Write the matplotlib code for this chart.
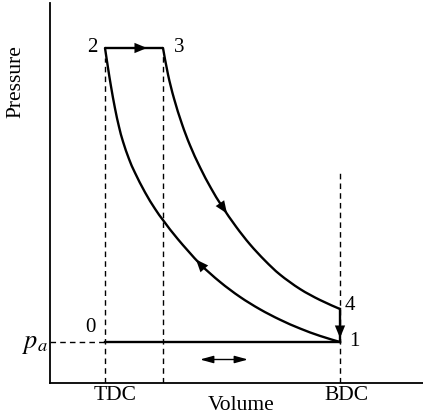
import matplotlib
matplotlib.use("Agg")
import matplotlib.pyplot as plt
from matplotlib.path import Path
from matplotlib.patches import PathPatch

plt.rcParams['font.family'] = ['Liberation Serif', 'DejaVu Serif']
plt.rcParams['mathtext.fontset'] = 'stix'

# ---- data (arbitrary units) ----
V_TDC = 55
V_3 = 113
V_BDC = 290
p_a = 41
p_max = 335
p_4 = 74

# compression curve, listed from state 2 to state 1 (volume, pressure)
comp_V = [55, 58, 61, 65, 69, 73, 79, 85, 95, 105, 114, 128, 150, 170, 190, 210, 230, 250, 270, 290]
comp_p = [335, 315.2, 296.6, 274.6, 256.2, 241.4, 224.0, 210.2, 190.7, 174.2, 161.6, 143.7,
          119.1, 101.1, 86.1, 73.7, 63.3, 54.5, 47.1, 41]
# expansion curve 3 -> 4
exp_V = [113, 118, 124, 132, 140, 150, 161, 172, 186, 200, 215, 230, 250, 270, 290]
exp_p = [335, 308.5, 284.5, 258.9, 237.7, 215.7, 194.8, 176.7, 156.4, 138.6, 122.4, 108.4,
         94.0, 83.0, 74]

labels = ['0', '1', '2', '3', '4']
label_V = [40, 304, 42, 129, 300]
label_p = [55, 42, 335, 335, 78]

fig = plt.figure(figsize=(4.23, 4.17), dpi=100)
ax = fig.add_axes([50 / 423, 34 / 417, 373 / 423, 380 / 417])
ax.set_xlim(0, 373)
ax.set_ylim(0, 380)
for s in ['top', 'right']:
    ax.spines[s].set_visible(False)
for s in ['left', 'bottom']:
    ax.spines[s].set_linewidth(1.3)
ax.set_xticks([])
ax.set_yticks([])

lw = 1.7
dash = dict(color='k', lw=1.0, linestyle=(0, (4, 3)))


def smooth_curve(xs, ys):
    """Catmull-Rom spline through the given points, drawn as a cubic Bezier path."""
    pts = list(zip(xs, ys))
    n = len(pts)
    verts = [pts[0]]
    codes = [Path.MOVETO]
    for i in range(n - 1):
        p0 = pts[i - 1] if i > 0 else pts[i]
        p1 = pts[i]
        p2 = pts[i + 1]
        p3 = pts[i + 2] if i + 2 < n else pts[i + 1]
        c1 = (p1[0] + (p2[0] - p0[0]) / 6, p1[1] + (p2[1] - p0[1]) / 6)
        c2 = (p2[0] - (p3[0] - p1[0]) / 6, p2[1] - (p3[1] - p1[1]) / 6)
        verts += [c1, c2, p2]
        codes += [Path.CURVE4] * 3
    ax.add_patch(PathPatch(Path(verts, codes), fill=False, edgecolor='k', lw=lw,
                           capstyle='round', joinstyle='round'))


# dashed guide lines
ax.plot([V_TDC, V_TDC], [0, p_max - 10], **dash)
ax.plot([V_3, V_3], [0, p_max - 5], **dash)
ax.plot([V_BDC, V_BDC], [0, 213], **dash)
ax.plot([0, V_TDC], [p_a, p_a], **dash)

# cycle
ax.plot([V_TDC, V_BDC], [p_a, p_a], color='k', lw=lw)
ax.plot([V_TDC, V_3], [p_max, p_max], color='k', lw=lw, solid_capstyle='butt')
smooth_curve(comp_V, comp_p)
smooth_curve(exp_V, exp_p)
ax.plot([V_BDC, V_BDC], [p_4, p_a], color='k', lw=lw)

ahead = dict(arrowstyle='-|>,head_length=0.9,head_width=0.37', color='k', lw=0.01,
             shrinkA=0, shrinkB=0, mutation_scale=10)


def arrow(x0, y0, x1, y1):
    ax.annotate('', xy=(x1, y1), xytext=(x0, y0), arrowprops=ahead)


# 2 -> 3
arrow(80, p_max, 97, p_max)
# expansion arrow (along curve, pointing down-right)
arrow(170.2, 179.4, 177, 169.5)
# compression arrow (pointing up-left)
arrow(154, 114.5, 146, 123.5)
# 4 -> 1
arrow(V_BDC, 62, V_BDC, 45)

# double arrow
ax.annotate('', xy=(150, 23.5), xytext=(198, 23.5),
            arrowprops=dict(arrowstyle='<|-|>,head_length=0.8,head_width=0.22', color='k',
                            lw=1.0, shrinkA=0, shrinkB=0, mutation_scale=10))

for t, x, y in zip(labels, label_V, label_p):
    ax.text(x, y, t, ha='center', va='center', fontsize=15)

ax.text(-28, 35, r'$p_a$', ha='left', va='baseline', fontsize=19, clip_on=False)
ax.text(V_TDC + 10, -12, 'TDC', ha='center', va='center', fontsize=15.5, clip_on=False)
ax.text(V_BDC + 6, -12, 'BDC', ha='center', va='center', fontsize=15.5, clip_on=False)
ax.text(191, -22, 'Volume', ha='center', va='center', fontsize=15.5, clip_on=False)
ax.text(-34, 301, 'Pressure', ha='center', va='center', rotation=90, fontsize=15.5, clip_on=False)

fig.savefig('out.png', dpi=100)
